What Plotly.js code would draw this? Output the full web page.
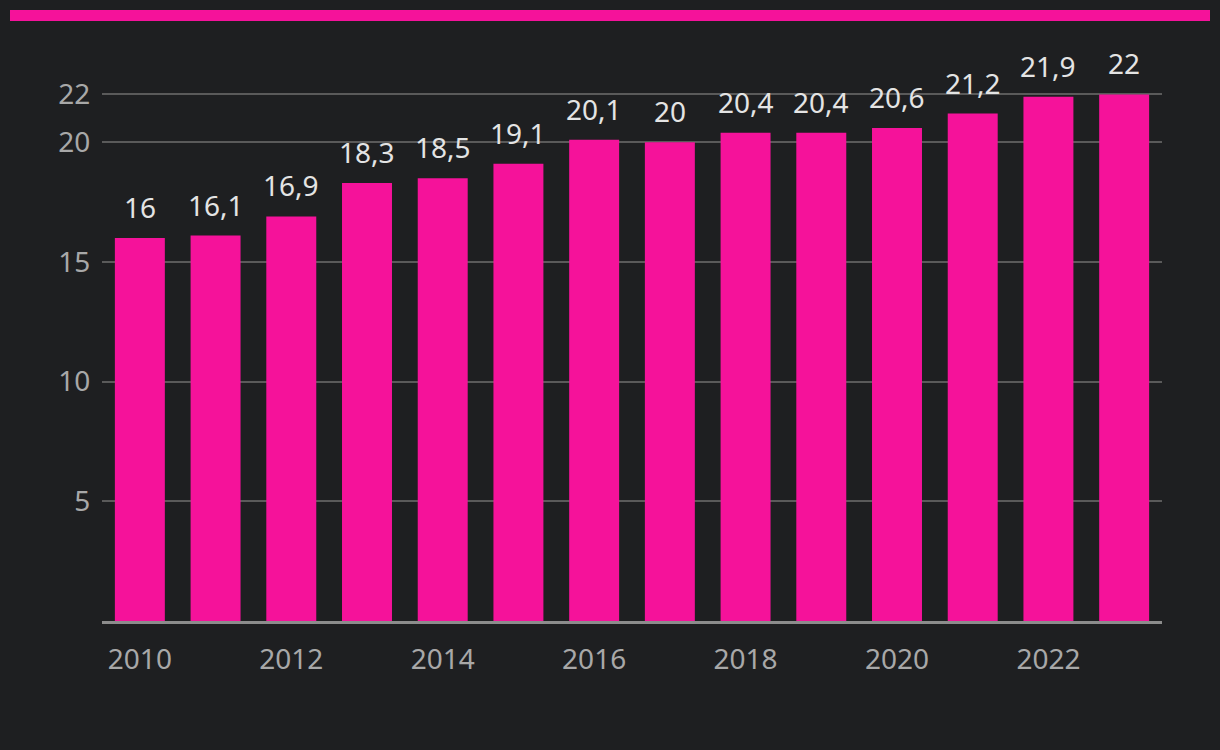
<!DOCTYPE html>
<html>
<head>
<meta charset="utf-8">
<script src="https://cdn.plot.ly/plotly-3.0.1.min.js"></script>
<style>
html,body{margin:0;padding:0;background:#1e1f21;}
#chart{width:1220px;height:750px;}
</style>
</head>
<body>
<div id="chart"></div>
<script>
const years = [2010, 2011, 2012, 2013, 2014, 2015, 2016, 2017, 2018, 2019, 2020, 2021, 2022, 2023];
const values = [16, 16.1, 16.9, 18.3, 18.5, 19.1, 20.1, 20, 20.4, 20.4, 20.6, 21.2, 21.9, 22];
const yTicks = [5, 10, 15, 20, 22];
const xTicks = [2010, 2012, 2014, 2016, 2018, 2020, 2022];

const labels = values.map(v => String(v).replace('.', ','));
const FONT = 'Noto Sans';
const FS = 28;

const trace = {
  type: 'bar',
  x: years,
  y: values,
  marker: {color: '#f5129a'},
  hoverinfo: 'none'
};

const annotations = years.map((yr, i) => ({
  x: yr, y: values[i],
  xref: 'x', yref: 'y',
  text: labels[i],
  showarrow: false,
  yanchor: 'bottom',
  yshift: 10,
  font: {family: FONT, size: FS, color: '#e4e4e4'}
}));

const layout = {
  width: 1220,
  height: 750,
  paper_bgcolor: '#1e1f21',
  plot_bgcolor: '#1e1f21',
  margin: {l: 102, r: 58, t: 92, b: 129},
  bargap: 0.34,
  showlegend: false,
  font: {family: FONT, color: '#a8a8a8', size: FS},
  annotations: annotations,
  xaxis: {
    type: 'linear',
    range: [2009.5, 2023.5],
    tickvals: xTicks,
    ticktext: xTicks.map(String),
    showgrid: false,
    zeroline: false,
    showline: true,
    linecolor: '#8c8c8c',
    linewidth: 3,
    ticks: 'outside',
    ticklen: 11,
    tickcolor: 'rgba(0,0,0,0)',
    tickfont: {family: FONT, size: FS, color: '#a8a8a8'},
    fixedrange: true
  },
  yaxis: {
    range: [0, 22.1],
    tickvals: yTicks,
    ticktext: yTicks.map(String),
    showgrid: true,
    gridcolor: '#5a5a5a',
    gridwidth: 2,
    zeroline: false,
    showline: false,
    ticks: 'outside',
    ticklen: 5,
    tickcolor: 'rgba(0,0,0,0)',
    tickfont: {family: FONT, size: FS, color: '#a8a8a8'},
    fixedrange: true
  },
  shapes: [{
    type: 'rect',
    xref: 'paper', yref: 'paper',
    x0: (10 - 102) / 1060, x1: (1210 - 102) / 1060,
    y0: (621 - 21) / 529, y1: (621 - 10) / 529,
    fillcolor: '#f5129a',
    line: {width: 0},
    layer: 'above'
  }]
};

Plotly.newPlot('chart', [trace], layout, {displayModeBar: false, staticPlot: true});
</script>
</body>
</html>
